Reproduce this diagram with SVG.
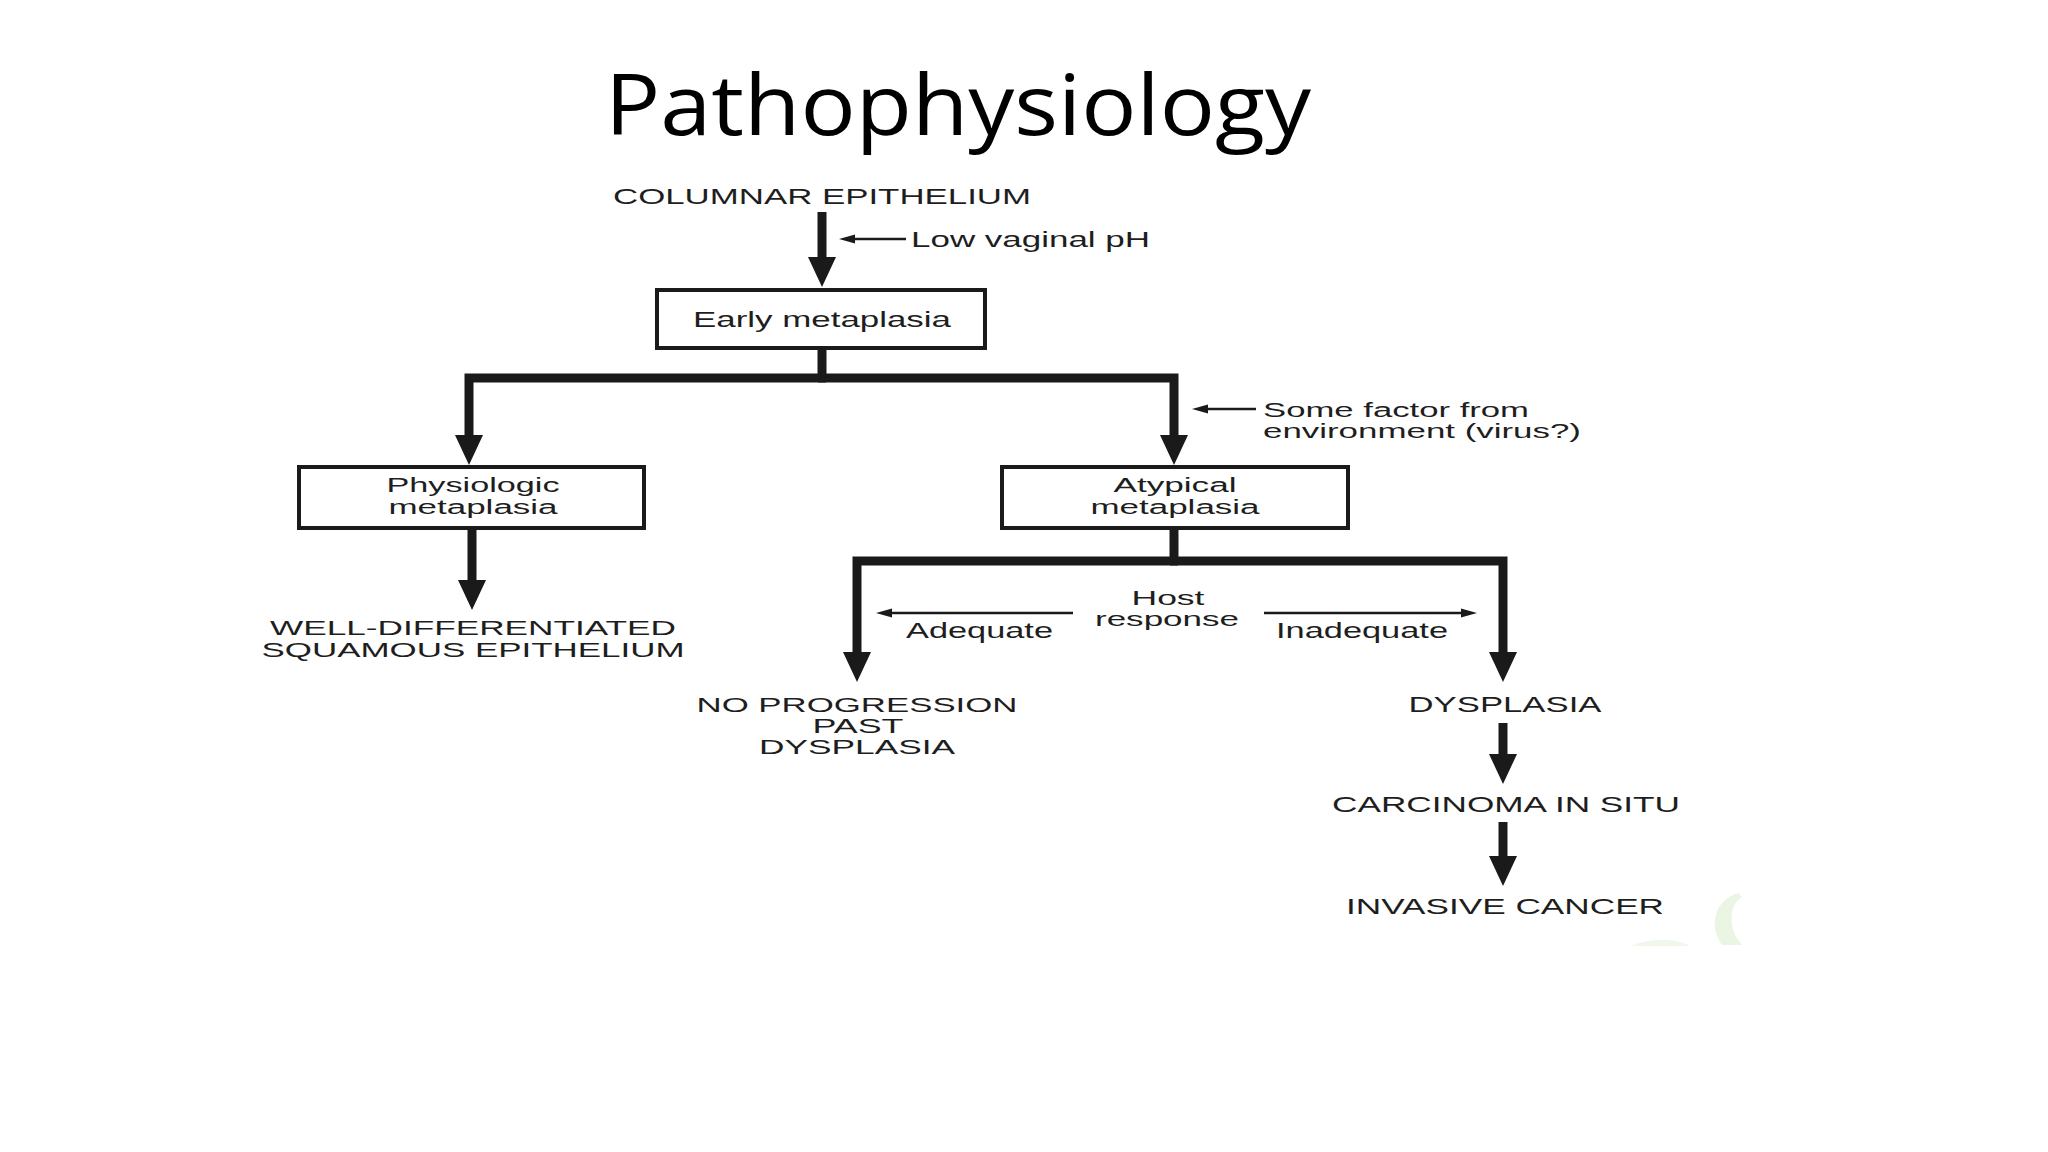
<svg xmlns="http://www.w3.org/2000/svg" width="2048" height="1152" viewBox="0 0 2048 1152">
<style>
.t{font-family:"Liberation Sans",Arial,sans-serif;font-size:22px;fill:#1e1e1e;}
.s{font-size:19.5px;}
.m{text-anchor:middle;}
.box{fill:#fff;stroke:#1a1a1a;stroke-width:4;}
.thick{fill:none;stroke:#1a1a1a;stroke-width:9;stroke-linejoin:miter;}
.thin{fill:none;stroke:#1a1a1a;stroke-width:2.5;}
.title{font-family:"Open Sans","Noto Sans",sans-serif;font-size:84px;fill:#000;text-anchor:middle;}
</style>
<defs>
<marker id="ah" markerUnits="userSpaceOnUse" viewBox="0 -15 31 30" markerWidth="31" markerHeight="30" refX="15" refY="0" orient="auto">
<path d="M0,-14 L30,0 L0,14 Z" fill="#1a1a1a"/>
</marker>
<marker id="as" markerUnits="userSpaceOnUse" viewBox="0 -6 17 12" markerWidth="17" markerHeight="12" refX="8" refY="0" orient="auto">
<path d="M0,-4.5 L16,0 L0,4.5 Z" fill="#1a1a1a"/>
</marker>
</defs>
<rect width="2048" height="1152" fill="#fff"/>
<text class="title" x="958" y="135" textLength="706" lengthAdjust="spacingAndGlyphs">Pathophysiology</text>

<g id="connectors">
<path class="thick" d="M822,212 V272" marker-end="url(#ah)"/>
<path class="thin" d="M906,239 H847" marker-end="url(#as)"/>
<path class="thick" d="M822,348 V378"/>
<path class="thick" d="M826,378 H469 V450" marker-end="url(#ah)"/>
<path class="thick" d="M818,378 H1174 V450" marker-end="url(#ah)"/>
<path class="thin" d="M1256,409 H1200" marker-end="url(#as)"/>
<path class="thick" d="M472,528 V595" marker-end="url(#ah)"/>
<path class="thick" d="M1174,528 V561"/>
<path class="thick" d="M1178,561 H857 V667" marker-end="url(#ah)"/>
<path class="thick" d="M1170,561 H1503 V667" marker-end="url(#ah)"/>
<path class="thin" d="M1073,613 H884" marker-end="url(#as)"/>
<path class="thin" d="M1264,613 H1469" marker-end="url(#as)"/>
<path class="thick" d="M1503,723 V769" marker-end="url(#ah)"/>
<path class="thick" d="M1503,822 V871" marker-end="url(#ah)"/>
</g>

<g id="columnar">
<text class="t m" x="822" y="204" textLength="418" lengthAdjust="spacingAndGlyphs">COLUMNAR EPITHELIUM</text>
</g>
<g id="low-ph">
<text class="t" x="911" y="247" textLength="239" lengthAdjust="spacingAndGlyphs">Low vaginal pH</text>
</g>
<g id="early">
<rect class="box" x="657" y="290" width="328" height="58"/>
<text class="t m" x="822" y="327" textLength="258" lengthAdjust="spacingAndGlyphs">Early metaplasia</text>
</g>
<g id="factor">
<text class="t s" x="1263" y="417" textLength="266" lengthAdjust="spacingAndGlyphs">Some factor from</text>
<text class="t s" x="1263" y="438" textLength="318" lengthAdjust="spacingAndGlyphs">environment (virus?)</text>
</g>
<g id="physiologic">
<rect class="box" x="299" y="467" width="345" height="61"/>
<text class="t s m" x="473" y="492" textLength="173" lengthAdjust="spacingAndGlyphs">Physiologic</text>
<text class="t s m" x="473" y="514" textLength="169" lengthAdjust="spacingAndGlyphs">metaplasia</text>
</g>
<g id="atypical">
<rect class="box" x="1002" y="467" width="346" height="61"/>
<text class="t s m" x="1175" y="492" textLength="123" lengthAdjust="spacingAndGlyphs">Atypical</text>
<text class="t s m" x="1175" y="514" textLength="169" lengthAdjust="spacingAndGlyphs">metaplasia</text>
</g>
<g id="well-diff">
<text class="t s m" x="473" y="635" textLength="406" lengthAdjust="spacingAndGlyphs">WELL-DIFFERENTIATED</text>
<text class="t s m" x="473" y="657" textLength="423" lengthAdjust="spacingAndGlyphs">SQUAMOUS EPITHELIUM</text>
</g>
<g id="host">
<text class="t s m" x="1168" y="605" textLength="73" lengthAdjust="spacingAndGlyphs">Host</text>
<text class="t s m" x="1167" y="626" textLength="144" lengthAdjust="spacingAndGlyphs">response</text>
<text class="t" x="906" y="638" textLength="147" lengthAdjust="spacingAndGlyphs">Adequate</text>
<text class="t" x="1276" y="638" textLength="172" lengthAdjust="spacingAndGlyphs">Inadequate</text>
</g>
<g id="no-progression">
<text class="t s m" x="857" y="712" textLength="321" lengthAdjust="spacingAndGlyphs">NO PROGRESSION</text>
<text class="t s m" x="858" y="733" textLength="91" lengthAdjust="spacingAndGlyphs">PAST</text>
<text class="t s m" x="857" y="754" textLength="196" lengthAdjust="spacingAndGlyphs">DYSPLASIA</text>
</g>
<g id="dysplasia">
<text class="t m" x="1505" y="712" textLength="193" lengthAdjust="spacingAndGlyphs">DYSPLASIA</text>
</g>
<g id="carcinoma">
<text class="t m" x="1506" y="812" textLength="348" lengthAdjust="spacingAndGlyphs">CARCINOMA IN SITU</text>
</g>
<g id="invasive">
<text class="t m" x="1505" y="914" textLength="318" lengthAdjust="spacingAndGlyphs">INVASIVE CANCER</text>
</g>
<g id="smudge" opacity="0.5">
<path d="M1738,893 C1715,900 1708,925 1722,945 L1742,945 C1728,930 1728,905 1742,897 Z" fill="#d8ecc8"/>
<path d="M1630,946 C1650,938 1675,938 1690,946 Z" fill="#e3f0d8"/>
</g>
</svg>
